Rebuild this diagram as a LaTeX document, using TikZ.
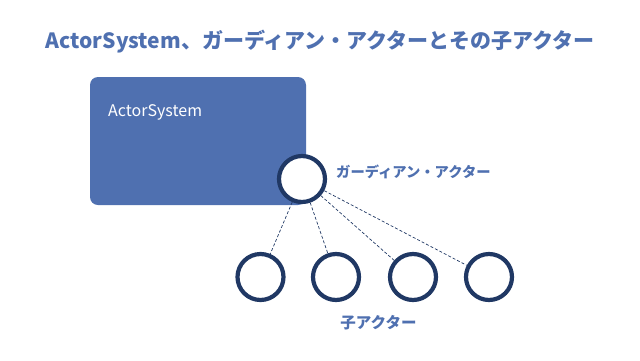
\documentclass[tikz,border=0pt]{standalone}
\usepackage{fontspec}
\setmainfont{Noto Sans CJK JP}
\definecolor{accblue}{RGB}{79,112,176}
\definecolor{navy}{RGB}{32,56,100}
\begin{document}
\begin{tikzpicture}[x=1pt,y=-1pt,
  actor/.style={circle,draw=navy,line width=4.2pt,fill=white,minimum size=46pt,inner sep=0pt},
  link/.style={draw=navy,dashed,line width=0.7pt,dash pattern=on 3pt off 2pt},
  lbl/.style={text=accblue,font=\bfseries\fontsize{14.3}{16}\selectfont,inner sep=0pt}]
\useasboundingbox (0,0) rectangle (640,360);
\node[text=accblue,font=\bfseries\fontsize{21}{24}\selectfont,inner sep=0pt] (title) at (320,42) {ActorSystem、ガーディアン・アクターとその子アクター};
\node[fill=accblue,rounded corners=8pt,minimum width=216pt,minimum height=128pt,inner sep=0pt] (sys) at (198,141) {};
\node[text=white,font=\fontsize{16}{18}\selectfont,anchor=west,inner sep=0pt] (syslbl) at (108,112) {ActorSystem};
\node[actor] (g) at (302,179) {};
\node[actor] (c1) at (260.5,277) {};
\node[actor] (c2) at (336,277) {};
\node[actor] (c3) at (413,277) {};
\node[actor] (c4) at (489,277) {};
\foreach \c in {c1,c2,c3,c4} \draw[link] (g) -- (\c);
\node[lbl,anchor=west] (glbl) at (336,172) {ガーディアン・アクター};
\node[lbl,font=\bfseries\fontsize{15.5}{18}\selectfont] (clbl) at (378.5,323) {子アクター};
\end{tikzpicture}
\end{document}
